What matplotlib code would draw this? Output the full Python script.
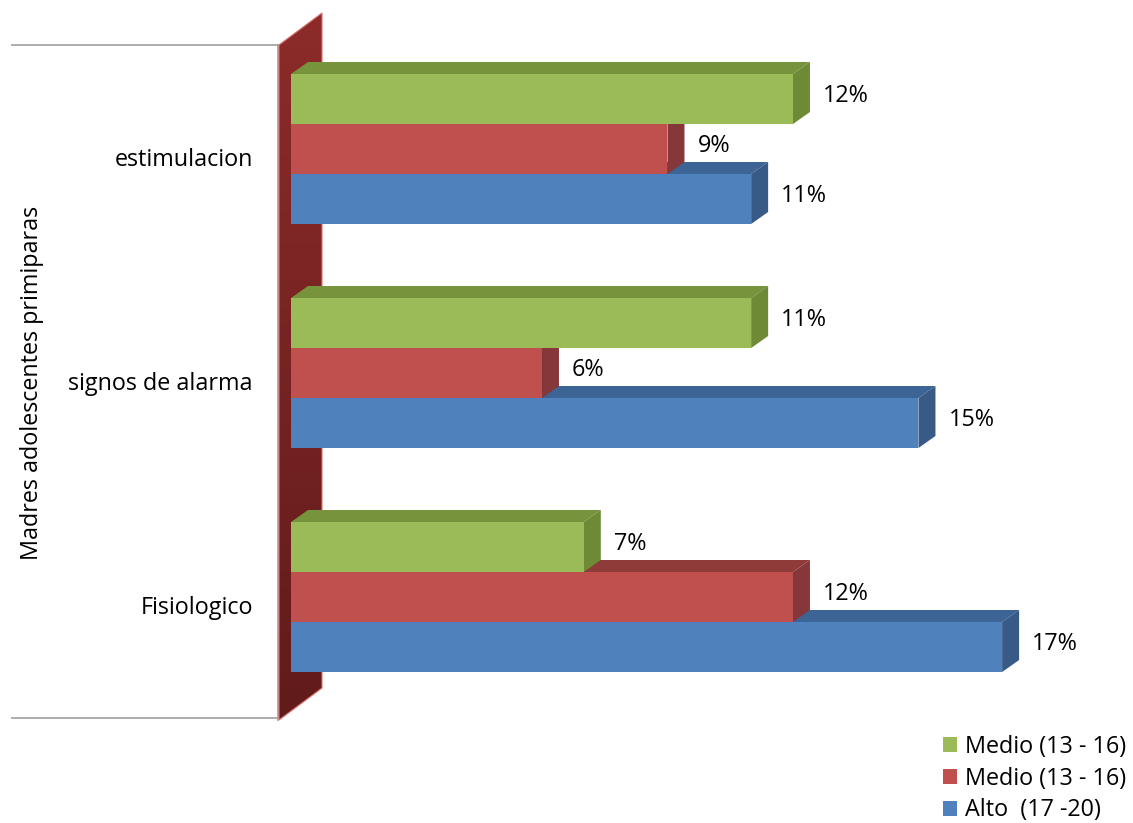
import numpy as np
import matplotlib
matplotlib.use("Agg")
import matplotlib.pyplot as plt
from matplotlib.patches import Polygon, Patch
from matplotlib.colors import LinearSegmentedColormap

# data
categories = ["estimulacion", "signos de alarma", "Fisiologico"]
series_labels = ["Medio (13 - 16)", "Medio (13 - 16)", "Alto  (17 -20)"]
medio_verde = [12, 11, 7]
medio_rojo = [9, 6, 12]
alto_azul = [11, 15, 17]
axis_title = "Madres adolescentes primiparas"

series = [medio_verde, medio_rojo, alto_azul]
front_colors = ["#9BBB59", "#C0504D", "#4F81BD"]
top_colors = ["#77933C", "#8E3B39", "#3C6494"]
side_colors = ["#6E8A37", "#86373A", "#375A86"]

plt.rcParams["font.family"] = ["Open Sans", "DejaVu Sans"]
FS = 16.8

W, H = 1133, 823
PX_PCT = 41.83   # pixels per percent
PX_CAT = 224     # pixels per category
X0, Y0 = 291, 149

fig = plt.figure(figsize=(W / 100, H / 100), dpi=100)
ax = fig.add_axes([0, 0, 1, 1])
ax.axis("off")

def px_x(p):
    return (p - X0) / PX_PCT

def px_y(p):
    return (p - Y0) / PX_CAT

BH = 50 / PX_CAT
DX = 17 / PX_PCT
DY = -12 / PX_CAT

# back wall with gradient
xw = px_x(279)
ytop, ybot = px_y(45), px_y(720)
WDX, WDY = 43 / PX_PCT, -32 / PX_CAT
wall = Polygon([(xw, ytop), (xw + WDX, ytop + WDY), (xw + WDX, ybot + WDY), (xw, ybot)],
               closed=True, facecolor="none", edgecolor="#D9706C", lw=0.8, zorder=3)
ax.add_patch(wall)
cmap = LinearSegmentedColormap.from_list("wall", ["#8C2B2A", "#611B1B"])
img = ax.imshow(np.linspace(0, 1, 256).reshape(-1, 1), cmap=cmap, aspect="auto",
                extent=(xw, xw + WDX, ybot, ytop + WDY), origin="upper", zorder=2)
img.set_clip_path(wall)

# category axis lines
ax.plot([px_x(12), px_x(278)], [px_y(45), px_y(45)], color="#A6A6A6", lw=1.3, zorder=1)
ax.plot([px_x(12), px_x(278)], [px_y(718), px_y(718)], color="#A6A6A6", lw=1.3, zorder=1)
ax.plot([px_x(278), px_x(278)], [px_y(45), px_y(720)], color="#A6A6A6", lw=1.3, zorder=1)

# bars: draw bottom series first so upper fronts cover lower top faces
for i, cat in enumerate(categories):
    for k, s in enumerate([2, 1, 0]):
        v = series[s][i]
        yc = i + (s - 1) * BH
        y0, y1 = yc - BH / 2, yc + BH / 2
        z = 10 + k * 3
        ax.add_patch(Polygon([(0, y0), (v, y0), (v + DX, y0 + DY), (DX, y0 + DY)],
                             facecolor=top_colors[s], edgecolor="none", zorder=z))
        ax.add_patch(Polygon([(v, y0), (v + DX, y0 + DY), (v + DX, y1 + DY), (v, y1)],
                             facecolor=side_colors[s], edgecolor="none", zorder=z + 1))
        ax.barh(yc, v, height=BH, color=front_colors[s], zorder=z + 2)
        ax.text(v + 30 / PX_PCT, yc - 3 / PX_CAT, f"{v}%", ha="left", va="center",
                fontsize=FS, color="black", zorder=30)
    ax.text(px_x(253), i + 11 / PX_CAT, cat, ha="right", va="center", fontsize=FS)

ax.text(px_x(32), px_y(383), axis_title, rotation=90, ha="center", va="center", fontsize=FS)

ax.set_xlim(px_x(0), px_x(W))
ax.set_ylim(px_y(H), px_y(0))

handles = [Patch(facecolor=c, edgecolor="none") for c in front_colors]
fig.legend(handles, series_labels, loc="upper left", bbox_to_anchor=(943 / W, 1 - 735 / H),
           frameon=False, fontsize=FS, handlelength=0.6, handleheight=0.6,
           handletextpad=0.35, labelspacing=0.33, borderpad=0, borderaxespad=0)

fig.savefig("out.png", dpi=100)
